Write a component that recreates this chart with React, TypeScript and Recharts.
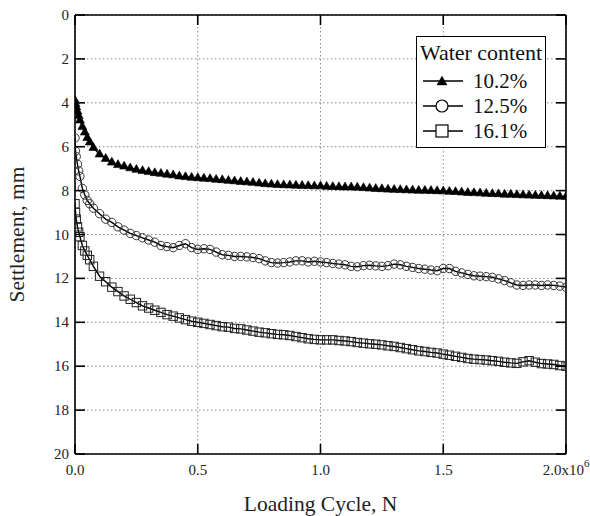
import React from 'react';
import { ComposedChart, Line, XAxis, YAxis, CartesianGrid, ReferenceLine } from 'recharts';

// loading cycles, in thousands
const cyclesK = [
  0, 2, 5, 10, 15, 20, 30, 40, 50, 60,
  75, 100, 125, 150, 175, 200, 225, 250, 275, 300,
  325, 350, 375, 400, 425, 450, 475, 500, 525, 550,
  575, 600, 625, 650, 675, 700, 725, 750, 775, 800,
  825, 850, 875, 900, 925, 950, 975, 1000, 1025, 1050,
  1075, 1100, 1125, 1150, 1175, 1200, 1225, 1250, 1275, 1300,
  1325, 1350, 1375, 1400, 1425, 1450, 1475, 1500, 1525, 1550,
  1575, 1600, 1625, 1650, 1675, 1700, 1725, 1750, 1775, 1800,
  1825, 1850, 1875, 1900, 1925, 1950, 1975, 2000,
];

// settlement (mm), water content 10.2%
const settle102 = [
  3.9, 4.05, 4.2, 4.4, 4.6, 4.8, 5.1, 5.35, 5.6, 5.8,
  6.05, 6.35, 6.55, 6.72, 6.83, 6.9, 6.98, 7.05, 7.1, 7.15,
  7.2, 7.23, 7.27, 7.3, 7.35, 7.38, 7.41, 7.43, 7.45, 7.47,
  7.5, 7.52, 7.55, 7.57, 7.6, 7.62, 7.64, 7.67, 7.7, 7.72,
  7.74, 7.75, 7.76, 7.77, 7.78, 7.79, 7.8, 7.8, 7.82, 7.83,
  7.84, 7.85, 7.85, 7.86, 7.88, 7.9, 7.92, 7.93, 7.95, 7.96,
  7.97, 7.98, 7.99, 8.0, 8.0, 8.01, 8.02, 8.03, 8.05, 8.06,
  8.08, 8.1, 8.11, 8.12, 8.14, 8.15, 8.16, 8.18, 8.18, 8.2,
  8.21, 8.22, 8.23, 8.24, 8.25, 8.26, 8.27, 8.28,
];

// settlement (mm), water content 12.5%
const settle125 = [
  5.6, 6.2, 6.45, 6.8, 7.1, 7.35, 7.9, 8.2, 8.45, 8.6,
  8.8, 9.05, 9.3, 9.45, 9.65, 9.8, 9.95, 10.05, 10.15, 10.25,
  10.35, 10.5, 10.55, 10.6, 10.5, 10.42, 10.6, 10.68, 10.65, 10.68,
  10.8, 10.92, 10.95, 11.0, 11.0, 11.02, 11.05, 11.1, 11.2, 11.28,
  11.3, 11.28, 11.25, 11.2, 11.2, 11.25, 11.22, 11.25, 11.28, 11.32,
  11.35, 11.38, 11.45, 11.47, 11.42, 11.4, 11.43, 11.45, 11.42, 11.35,
  11.38, 11.45, 11.5, 11.55, 11.58, 11.62, 11.65, 11.55, 11.55, 11.68,
  11.75, 11.82, 11.88, 11.9, 11.92, 11.95, 12.02, 12.1, 12.2, 12.3,
  12.32, 12.3, 12.3, 12.32, 12.3, 12.32, 12.35, 12.4,
];

// settlement (mm), water content 16.1%
const settle161 = [
  8.6, 9.0, 9.3, 9.65, 9.9, 10.1, 10.5, 10.75, 10.95, 11.15,
  11.45, 11.9, 12.15, 12.4, 12.6, 12.8, 12.95, 13.1, 13.25, 13.35,
  13.45, 13.55, 13.65, 13.72, 13.8, 13.88, 13.95, 14.0, 14.05, 14.1,
  14.15, 14.2, 14.22, 14.28, 14.3, 14.35, 14.4, 14.45, 14.48, 14.52,
  14.55, 14.57, 14.6, 14.65, 14.7, 14.75, 14.78, 14.8, 14.8, 14.8,
  14.83, 14.85, 14.88, 14.92, 14.95, 14.98, 15.0, 15.03, 15.07, 15.1,
  15.15, 15.2, 15.25, 15.3, 15.33, 15.37, 15.4, 15.45, 15.5, 15.55,
  15.6, 15.65, 15.68, 15.7, 15.72, 15.75, 15.78, 15.82, 15.85, 15.87,
  15.8, 15.75, 15.82, 15.88, 15.9, 15.92, 15.97, 16.0,
];

const xTicks = [0, 500000, 1000000, 1500000, 2000000];
const xTickLabels = ['0.0', '0.5', '1.0', '1.5', '2.0x10'];
const yTicks = [0, 2, 4, 6, 8, 10, 12, 14, 16, 18, 20];
const seriesNames = ['10.2%', '12.5%', '16.1%'];

// plot box in page pixels
const PLOT = { left: 75, right: 566, top: 15, bottom: 454 };
const FONT = "'Liberation Serif', 'Times New Roman', serif";
const TICK_LEN = 10;

const data = cyclesK.map((k, i) => ({
  n: k * 1000,
  w102: settle102[i],
  w125: settle125[i],
  w161: settle161[i],
}));

function Triangle({ cx, cy, s = 9 }: { cx: number; cy: number; s?: number }) {
  const h = s * 0.87;
  return (
    <polygon
      points={`${cx},${cy - (2 * h) / 3} ${cx - s / 2},${cy + h / 3} ${cx + s / 2},${cy + h / 3}`}
      fill="#000"
      stroke="#000"
      strokeWidth={0.6}
    />
  );
}

function Circle({ cx, cy }: { cx: number; cy: number }) {
  return <circle cx={cx} cy={cy} r={4.2} fill="none" stroke="#333" strokeWidth={1} />;
}

function Square({ cx, cy }: { cx: number; cy: number }) {
  return <rect x={cx - 4.2} y={cy - 4.2} width={8.4} height={8.4} fill="none" stroke="#222" strokeWidth={1} />;
}

const renderTriangle = (p: any) => <Triangle key={`t-${p.index}`} cx={p.cx} cy={p.cy} />;
const renderCircle = (p: any) => <Circle key={`c-${p.index}`} cx={p.cx} cy={p.cy} />;
const renderSquare = (p: any) => <Square key={`s-${p.index}`} cx={p.cx} cy={p.cy} />;

const textStyle = { fontFamily: FONT };

function XTick(props: any) {
  const { x, payload } = props;
  const idx = xTicks.indexOf(payload.value);
  const label = xTickLabels[idx];
  const last = idx === xTicks.length - 1;
  return (
    <g>
      <line x1={x} x2={x} y1={PLOT.bottom} y2={PLOT.bottom - TICK_LEN} stroke="#000" strokeWidth={1.6} />
      <line x1={x} x2={x} y1={PLOT.top} y2={PLOT.top + TICK_LEN} stroke="#000" strokeWidth={1.6} />
      <text x={x} y={PLOT.bottom + 21} textAnchor="middle" fontSize={15} style={textStyle} fill="#222">
        {label}
        {last && (
          <tspan dy={-8} fontSize={11}>
            6
          </tspan>
        )}
      </text>
    </g>
  );
}

function YTick(props: any) {
  const { y, payload } = props;
  return (
    <g>
      <line x1={PLOT.left} x2={PLOT.left + TICK_LEN} y1={y} y2={y} stroke="#000" strokeWidth={1.6} />
      <line x1={PLOT.right - TICK_LEN} x2={PLOT.right} y1={y} y2={y} stroke="#000" strokeWidth={1.6} />
      <text x={69} y={y} dy={5} textAnchor="end" fontSize={15} style={textStyle} fill="#222">
        {payload.value}
      </text>
    </g>
  );
}

function LegendBox() {
  const markers = [
    <Triangle cx={20} cy={11} s={10} />,
    <circle cx={20} cy={10} r={6} fill="#fff" stroke="#000" strokeWidth={1.2} />,
    <rect x={14} y={4} width={12} height={12} fill="#fff" stroke="#000" strokeWidth={1.2} />,
  ];
  return (
    <div
      style={{
        position: 'absolute',
        left: 416,
        top: 36,
        width: 130,
        height: 112,
        boxSizing: 'border-box',
        border: '1.5px solid #000',
        background: '#fff',
        fontFamily: FONT,
        color: '#111',
      }}
    >
      <div style={{ fontSize: 22, lineHeight: '24px', textAlign: 'center', marginTop: 4, marginBottom: 3 }}>
        Water content
      </div>
      {seriesNames.map((name, i) => (
        <div key={name} style={{ display: 'flex', alignItems: 'center', height: 25, marginLeft: 5 }}>
          <svg width={42} height={20}>
            <line x1={1} x2={41} y1={10} y2={10} stroke="#000" strokeWidth={1.5} />
            {markers[i]}
          </svg>
          <span style={{ fontSize: 21, marginLeft: 9, lineHeight: '22px', fontFamily: FONT }}>{name}</span>
        </div>
      ))}
    </div>
  );
}

export default function App() {
  return (
    <div style={{ position: 'absolute', left: 0, top: 0, width: 590, height: 516, background: '#fff' }}>
      <ComposedChart
        width={590}
        height={516}
        data={data}
        margin={{ top: PLOT.top, right: 590 - PLOT.right, bottom: 0, left: 0 }}
      >
        <CartesianGrid stroke="#888" strokeDasharray="1.5 2.5" />
        <XAxis
          dataKey="n"
          type="number"
          domain={[0, 2000000]}
          ticks={xTicks}
          interval={0}
          height={516 - PLOT.bottom}
          tickLine={false}
          axisLine={{ stroke: '#000', strokeWidth: 1.6 }}
          tick={<XTick />}
          allowDataOverflow
          label={{
            content: (p: any) => {
              const vb = p.viewBox;
              return (
                <text x={vb.x + vb.width / 2} y={511} textAnchor="middle" fontSize={21.5} style={textStyle} fill="#222">
                  Loading Cycle, N
                </text>
              );
            },
          }}
        />
        <YAxis
          type="number"
          reversed
          domain={[0, 20]}
          ticks={yTicks}
          interval={0}
          width={PLOT.left}
          tickLine={false}
          axisLine={{ stroke: '#000', strokeWidth: 1.6 }}
          tick={<YTick />}
          allowDataOverflow
          label={{
            content: (p: any) => {
              const vb = p.viewBox;
              const cy = vb.y + vb.height / 2;
              return (
                <text
                  x={24}
                  y={cy}
                  transform={`rotate(-90, 24, ${cy})`}
                  textAnchor="middle"
                  fontSize={21.5}
                  style={textStyle}
                  fill="#222"
                >
                  Settlement, mm
                </text>
              );
            },
          }}
        />
        <Line
          type="linear"
          dataKey="w161"
          name={seriesNames[2]}
          stroke="#000"
          strokeWidth={1.4}
          dot={renderSquare}
          activeDot={false}
          isAnimationActive={false}
        />
        <Line
          type="linear"
          dataKey="w125"
          name={seriesNames[1]}
          stroke="#000"
          strokeWidth={1.4}
          dot={renderCircle}
          activeDot={false}
          isAnimationActive={false}
        />
        <Line
          type="linear"
          dataKey="w102"
          name={seriesNames[0]}
          stroke="#000"
          strokeWidth={1.4}
          dot={renderTriangle}
          activeDot={false}
          isAnimationActive={false}
        />
        <ReferenceLine y={0} stroke="#000" strokeWidth={1.6} />
        <ReferenceLine x={2000000} stroke="#000" strokeWidth={1.6} />
      </ComposedChart>
      <LegendBox />
    </div>
  );
}
